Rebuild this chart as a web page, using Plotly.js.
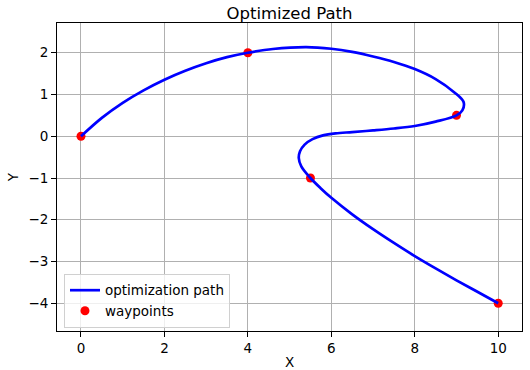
<!DOCTYPE html>
<html>
<head>
<meta charset="utf-8">
<script src="https://cdn.plot.ly/plotly-3.0.1.min.js"></script>
<style>html,body{margin:0;padding:0;background:#fff;}#chart{width:530px;height:370px;}</style>
</head>
<body>
<div id="chart"></div>
<script>
// Path (x, y in data units)
const pathX = [0, 0.5, 1, 1.5, 2, 2.5, 3, 3.5, 4, 4.6, 5.4, 6, 6.5, 7, 7.5, 8, 8.5, 8.95, 9.17, 9.14, 9.0, 8.5, 8, 7.5, 7, 6.5, 6.1, 5.8, 5.55, 5.36, 5.25, 5.22, 5.28, 5.5, 5.75, 6, 6.5, 7, 7.5, 8, 8.5, 9, 9.5, 10];
const pathY = [0, 0.44, 0.80, 1.10, 1.355, 1.57, 1.75, 1.895, 2.0, 2.09, 2.135, 2.095, 2.02, 1.91, 1.78, 1.61, 1.37, 1.05, 0.82, 0.62, 0.5, 0.35, 0.245, 0.185, 0.14, 0.1, 0.07, 0.02, -0.07, -0.2, -0.36, -0.52, -0.72, -1.0, -1.25, -1.475, -1.87, -2.225, -2.555, -2.87, -3.165, -3.45, -3.725, -4.0];
const waypointX = [0, 4, 9, 5.5, 10];
const waypointY = [0, 2, 0.5, -1, -4];
const xTicks = [0, 2, 4, 6, 8, 10];
const yTicks = [-4, -3, -2, -1, 0, 1, 2];

const font = 'DejaVu Sans, sans-serif';
const traces = [
  {x: waypointX, y: waypointY, type: 'scatter', mode: 'markers', name: 'waypoints',
   marker: {color: '#ff0000', size: 9}, legendrank: 2},
  {x: pathX, y: pathY, type: 'scatter', mode: 'lines', name: 'optimization path',
   line: {color: '#0000ff', width: 2.7, shape: 'spline', smoothing: 1}, legendrank: 1}
];
const axisCommon = {
  showline: true, mirror: true, linecolor: '#000', linewidth: 1,
  ticks: 'outside', ticklen: 5, tickwidth: 1, tickcolor: '#000',
  showgrid: true, gridcolor: '#b0b0b0', gridwidth: 1, zeroline: false,
  tickfont: {family: font, size: 13.5, color: '#000'}
};
const layout = {
  width: 530, height: 370,
  margin: {l: 57, r: 8, t: 23, b: 39},
  paper_bgcolor: '#fff', plot_bgcolor: '#fff',
  title: {text: 'Optimized Path', font: {family: font, size: 16.5, color: '#000'},
    x: 0.5, xref: 'paper', xanchor: 'center', y: 1, yref: 'paper', yanchor: 'bottom', pad: {b: 4}},
  xaxis: Object.assign({}, axisCommon, {range: [-0.575, 10.57], tickvals: xTicks,
    title: {text: 'X', font: {family: font, size: 13.5, color: '#000'}, standoff: 5}}),
  yaxis: Object.assign({}, axisCommon, {range: [-4.664, 2.712], tickvals: yTicks,
    title: {text: 'Y', font: {family: font, size: 13.5, color: '#000'}, standoff: 6}}),
  showlegend: true,
  legend: {x: 0.015, y: 0.01, xanchor: 'left', yanchor: 'bottom',
    bgcolor: 'rgba(255,255,255,0.8)', bordercolor: '#d0d0d0', borderwidth: 1,
    font: {family: font, size: 13.5, color: '#000'}, tracegroupgap: 0, itemwidth: 30}
};
Plotly.newPlot('chart', traces, layout, {displayModeBar: false, staticPlot: true});
</script>
</body>
</html>
